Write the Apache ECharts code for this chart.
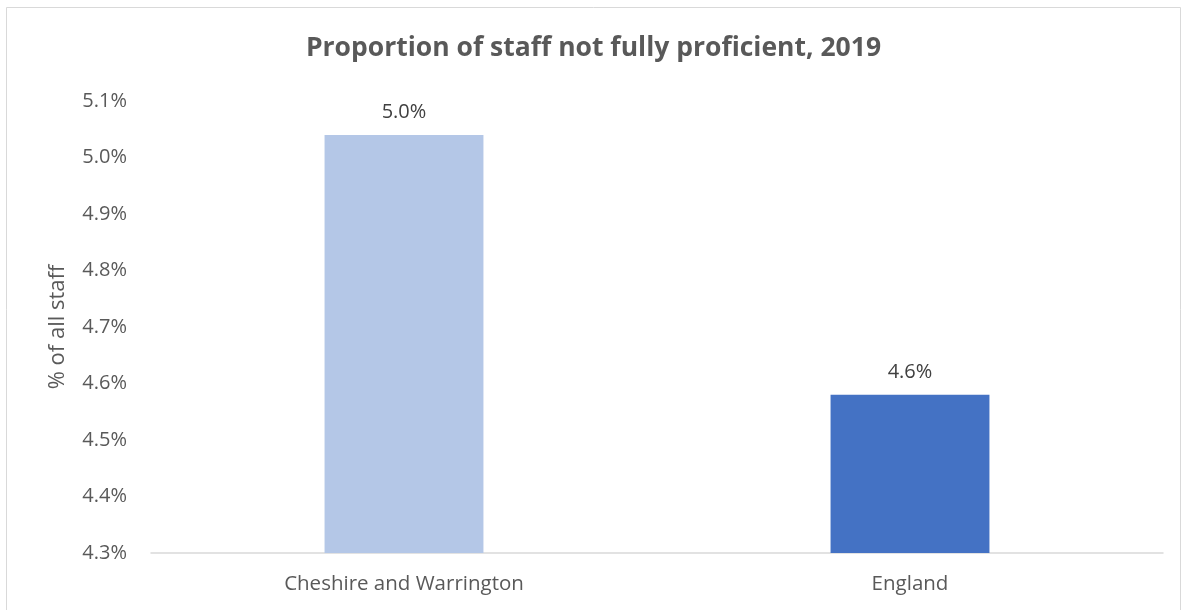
<!DOCTYPE html>
<html>
<head>
<meta charset="utf-8">
<script src="https://cdn.jsdelivr.net/npm/echarts@6/dist/echarts.min.js"></script>
<style>
  html, body { margin: 0; padding: 0; background: #fff; }
  #chart { width: 1187px; height: 610px; }
</style>
</head>
<body>
<div id="chart"></div>
<script>
// data
const categories = ['Cheshire and Warrington', 'England']
const values = [5.04, 4.58]
const barColors = ['#b4c7e7', '#4472c4']

const yMin = 4.3
const yMax = 5.1
const yStep = 0.1

const font = '"Open Sans", "Liberation Sans", sans-serif'
const textColor = '#595959'

const chart = echarts.init(document.getElementById('chart'))

chart.setOption({
  animation: false,
  backgroundColor: '#fff',
  textStyle: { fontFamily: font },
  graphic: [{
    type: 'rect',
    shape: { x: 6.5, y: 7.5, width: 1174, height: 620 },
    style: { fill: 'none', stroke: '#d9d9d9', lineWidth: 1 },
    silent: true
  }],
  title: {
    text: 'Proportion of staff not fully proficient, 2019',
    left: 'center',
    top: 30,
    textStyle: {
      fontFamily: font,
      fontSize: 26.5,
      fontWeight: 'bold',
      color: textColor
    }
  },
  grid: {
    left: 151,
    right: 24,
    top: 101,
    bottom: 57
  },
  xAxis: {
    type: 'category',
    data: categories,
    axisLine: { lineStyle: { color: '#d9d9d9', width: 1.5 } },
    axisTick: { show: false },
    axisLabel: {
      fontFamily: font,
      fontSize: 20.5,
      color: textColor,
      margin: 21
    }
  },
  yAxis: {
    type: 'value',
    min: yMin,
    max: yMax,
    interval: yStep,
    name: '% of all staff',
    nameLocation: 'middle',
    nameGap: 82,
    nameRotate: 90,
    nameTextStyle: {
      fontFamily: font,
      fontSize: 22,
      color: textColor
    },
    splitLine: { show: false },
    axisLine: { show: false },
    axisTick: { show: false },
    axisLabel: {
      fontFamily: font,
      fontSize: 20,
      color: textColor,
      margin: 24,
      formatter: v => v.toFixed(1) + '%'
    }
  },
  series: [{
    type: 'bar',
    barWidth: '31.4%',
    data: values.map((v, i) => ({ value: v, itemStyle: { color: barColors[i] } })),
    label: {
      show: true,
      position: 'top',
      distance: 13,
      fontFamily: font,
      fontSize: 20,
      color: '#404040',
      formatter: p => p.value.toFixed(1) + '%'
    }
  }]
})
</script>
</body>
</html>
